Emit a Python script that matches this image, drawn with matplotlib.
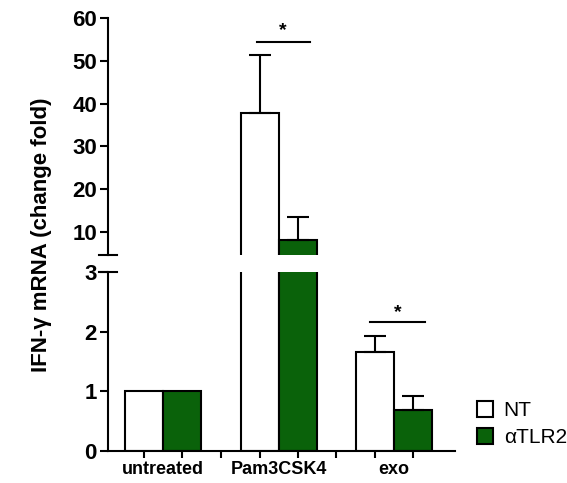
import numpy as np
import matplotlib.pyplot as plt
from matplotlib.patches import Patch

plt.rcParams['font.family'] = ['Liberation Sans', 'DejaVu Sans']
plt.rcParams['font.weight'] = 'bold'

groups = ['untreated', 'Pam3CSK4', 'exo']
nt = [1.0, 37.8, 1.66]
nt_err = [0.0, 13.6, 0.26]
tlr2 = [1.0, 8.0, 0.69]
tlr2_err = [0.0, 5.5, 0.23]

green = '#0a620a'
w = 0.33
x = np.arange(len(groups))

fig = plt.figure(figsize=(5.67, 4.83), dpi=100)
L, R = 108/567, 455/567
ax_top = fig.add_axes([L, 1-255/483, R-L, (255-18)/483])
ax_bot = fig.add_axes([L, 1-451/483, R-L, (451-272)/483])

for ax in (ax_top, ax_bot):
    ax.bar(x - w/2, nt, w, color='white', edgecolor='black', linewidth=1.5)
    ax.bar(x + w/2, tlr2, w, color=green, edgecolor='black', linewidth=1.5)
    for i in range(len(groups)):
        if nt_err[i] > 0:
            ax.errorbar(x[i] - w/2, nt[i], yerr=[[0], [nt_err[i]]], fmt='none',
                        ecolor='black', elinewidth=1.5, capsize=8, capthick=1.5)
        if tlr2_err[i] > 0:
            ax.errorbar(x[i] + w/2, tlr2[i], yerr=[[0], [tlr2_err[i]]], fmt='none',
                        ecolor='black', elinewidth=1.5, capsize=8, capthick=1.5)
    ax.set_xlim(-0.48, 2.53)
    ax.spines['top'].set_visible(False)
    ax.spines['right'].set_visible(False)
    ax.spines['left'].set_linewidth(1.5)
    ax.spines['bottom'].set_linewidth(1.5)
    ax.tick_params(axis='y', width=1.5, length=6, pad=2, labelsize=16)
    for lab in ax.get_yticklabels():
        lab.set_fontweight('bold')

# top part
ax_top.set_ylim(4.6, 60)
ax_top.set_yticks([10, 20, 30, 40, 50, 60])
ax_top.spines['bottom'].set_visible(False)
ax_top.set_xticks([])
ax_top.plot([-0.025, 0.025], [0, 0], transform=ax_top.transAxes, color='black',
            lw=1.5, clip_on=False)
ax_top.plot([0.81, 1.27], [54.3, 54.3], color='black', lw=1.5)
ax_top.text(1.04, 55.0, '*', ha='center', va='bottom', fontsize=14, fontweight='bold')

# bottom part
ax_bot.set_ylim(0, 3)
ax_bot.set_yticks([0, 1, 2, 3])
ax_bot.plot([-0.025, 0.025], [1, 1], transform=ax_bot.transAxes, color='black',
            lw=1.5, clip_on=False)
ticks = np.sort(np.concatenate([x - w/2, x + w/2, [0.5, 1.5]]))
ax_bot.set_xticks(ticks)
ax_bot.set_xticklabels([])
ax_bot.tick_params(axis='x', width=1.5, length=5)
for i, g in enumerate(groups):
    ax_bot.text(x[i], -0.16, g, ha='center', va='top', fontsize=13, fontweight='bold')
ax_bot.plot([1.79, 2.27], [2.16, 2.16], color='black', lw=1.5)
ax_bot.text(2.03, 2.17, '*', ha='center', va='bottom', fontsize=14, fontweight='bold')

fig.text(42/567, 1-235/483, 'IFN-\u03b3 mRNA (change fold)', rotation=90,
         ha='center', va='center', fontsize=16, fontweight='bold')

handles = [Patch(facecolor='white', edgecolor='black', linewidth=1.5, label='NT'),
           Patch(facecolor=green, edgecolor='black', linewidth=1.5, label='\u03b1TLR2')]
fig.legend(handles=handles, loc='center left', bbox_to_anchor=(462/567, 1-424/483),
           frameon=False, prop={'size': 15, 'weight': 'normal'},
           handlelength=0.8, handleheight=0.8,
           handletextpad=0.5, labelspacing=0.35, borderpad=0.2)

fig.savefig('out.png', dpi=100)
